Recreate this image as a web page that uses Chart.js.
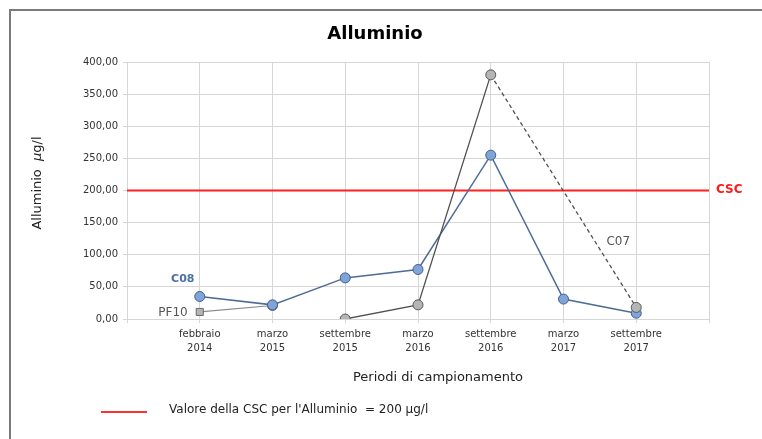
<!DOCTYPE html>
<html>
<head>
<meta charset="utf-8">
<script src="https://cdn.jsdelivr.net/npm/chart.js@4.4.1/dist/chart.umd.min.js"></script>
<style>
  html, body { margin: 0; padding: 0; background: #fff; }
  #wrap { width: 762px; height: 439px; }
</style>
</head>
<body>
<div id="wrap"><canvas id="chart" width="762" height="439"></canvas></div>
<script>
// periods (first and last slots are empty padding so the grid matches the original)
const periods = ['', 'febbraio\n2014', 'marzo\n2015', 'settembre\n2015', 'marzo\n2016',
                 'settembre\n2016', 'marzo\n2017', 'settembre\n2017', ''];
const c08 = [null, 35, 22, 64, 77, 255, 31, 9, null];
const c07 = [null, null, null, 0, 22, 380, null, 18, null];
const pf10 = [null, 11, 21, null, null, null, null, null, null];
const cscValue = 200;
const csc = periods.map(() => cscValue);
const yTicks = [0, 50, 100, 150, 200, 250, 300, 350, 400];

const FONT = "'DejaVu Sans', Arial, sans-serif";

const fmt = v => v.toFixed(2).replace('.', ',');

const decorations = {
    id: 'decorations',
    beforeDraw(chart) {
        const ctx = chart.ctx;
        ctx.save();
        ctx.fillStyle = '#fff';
        ctx.fillRect(0, 0, chart.width, chart.height);
        ctx.strokeStyle = '#7a7a7a';
        ctx.lineWidth = 2;
        ctx.beginPath();
        ctx.moveTo(10, chart.height);
        ctx.lineTo(10, 10);
        ctx.lineTo(chart.width, 10);
        ctx.stroke();
        ctx.restore();
    },
    afterDraw(chart) {
        const ctx = chart.ctx;
        const x = chart.scales.x, y = chart.scales.y;
        const area = chart.chartArea;
        ctx.save();

        // title
        ctx.fillStyle = '#000';
        ctx.font = 'bold 18px ' + FONT;
        ctx.textAlign = 'center';
        ctx.textBaseline = 'middle';
        ctx.fillText('Alluminio', 375, 34);

        // y axis title
        ctx.save();
        ctx.translate(38, 183);
        ctx.rotate(-Math.PI / 2);
        ctx.fillStyle = '#222';
        const a = 'Alluminio  ';
        ctx.font = '13px ' + FONT;
        const wa = ctx.measureText(a).width;
        ctx.font = 'italic 13px ' + FONT;
        const wb = ctx.measureText('\u00b5').width;
        ctx.font = '13px ' + FONT;
        const wc = ctx.measureText('g/l').width;
        let sx = -(wa + wb + wc) / 2;
        ctx.textAlign = 'left';
        ctx.fillText(a, sx, 0);
        ctx.font = 'italic 13px ' + FONT;
        ctx.fillText('\u00b5', sx + wa, 0);
        ctx.font = '13px ' + FONT;
        ctx.fillText('g/l', sx + wa + wb, 0);
        ctx.restore();

        // x axis title
        ctx.font = '13px ' + FONT;
        ctx.fillStyle = '#222';
        ctx.textAlign = 'center';
        ctx.fillText('Periodi di campionamento', 438, 378);

        // series labels
        ctx.font = 'bold 11px ' + FONT;
        ctx.fillStyle = '#4a6fa5';
        ctx.textAlign = 'center';
        ctx.fillText('C08', x.getPixelForValue(1) - 17, y.getPixelForValue(c08[1]) - 17);

        ctx.font = '12px ' + FONT;
        ctx.fillStyle = '#555';
        ctx.textAlign = 'right';
        ctx.fillText('PF10', x.getPixelForValue(1) - 12, y.getPixelForValue(pf10[1]) + 1);

        ctx.font = '12px ' + FONT;
        ctx.textAlign = 'center';
        ctx.fillText('C07', x.getPixelForValue(7) - 18, y.getPixelForValue(120));

        ctx.font = 'bold 12px ' + FONT;
        ctx.fillStyle = '#ff1a1a';
        ctx.textAlign = 'left';
        ctx.fillText('CSC', area.right + 7, y.getPixelForValue(cscValue) - 1);

        // legend
        ctx.strokeStyle = '#ff3030';
        ctx.lineWidth = 2;
        ctx.beginPath();
        ctx.moveTo(101, 412);
        ctx.lineTo(147, 412);
        ctx.stroke();
        ctx.font = '12px ' + FONT;
        ctx.fillStyle = '#222';
        ctx.textAlign = 'left';
        ctx.fillText("Valore della CSC per l'Alluminio  = " + cscValue + ' \u00b5g/l', 169, 410);

        ctx.restore();
    }
};

new Chart(document.getElementById('chart'), {
    type: 'line',
    data: {
        labels: periods.map(p => p.split('\n')),
        datasets: [
            {
                label: 'C07',
                data: c07,
                borderColor: '#505050',
                borderWidth: 1.3,
                pointBackgroundColor: '#b5b5b5',
                pointBorderColor: '#5a5a5a',
                pointBorderWidth: 1,
                pointRadius: 5,
                spanGaps: true,
                segment: {
                    // dashed where a sampling period is missing
                    borderDash: c => (c.p0.skip || c.p1.skip ? [4, 3] : undefined)
                }
            },
            {
                label: 'C08',
                data: c08,
                borderColor: '#4e6c96',
                borderWidth: 1.5,
                pointBackgroundColor: '#7fa4d8',
                pointBorderColor: '#41608e',
                pointBorderWidth: 1,
                pointRadius: 5
            },
            {
                label: 'PF10',
                data: pf10,
                borderColor: '#8a8a8a',
                borderWidth: 1.2,
                pointStyle: ['circle', 'rect', 'circle'],
                pointBackgroundColor: '#b5b5b5',
                pointBorderColor: '#6a6a6a',
                pointBorderWidth: 1,
                pointRadius: 5
            },
            {
                label: 'CSC',
                data: csc,
                borderColor: '#ff2020',
                borderWidth: 2,
                pointRadius: 0
            }
        ]
    },
    options: {
        responsive: false,
        animation: false,
        layout: { padding: { top: 62, right: 53, bottom: 0, left: 0 } },
        plugins: {
            legend: { display: false },
            title: { display: false },
            tooltip: { enabled: false }
        },
        scales: {
            x: {
                type: 'category',
                offset: false,
                afterFit: s => { s.height = 120; },
                grid: { color: '#d6d6d6', lineWidth: 1, tickLength: 4 },
                border: { color: '#d6d6d6' },
                ticks: {
                    autoSkip: false,
                    maxRotation: 0,
                    padding: 5,
                    color: '#333',
                    font: { family: FONT, size: 10, lineHeight: 1.35 }
                }
            },
            y: {
                min: 0,
                max: 400,
                afterFit: s => { s.width = 127; },
                afterBuildTicks: s => { s.ticks = yTicks.map(v => ({ value: v })); },
                grid: { color: '#d6d6d6', lineWidth: 1, tickLength: 4 },
                border: { color: '#d6d6d6' },
                ticks: {
                    padding: 5,
                    color: '#333',
                    font: { family: FONT, size: 10 },
                    callback: v => fmt(v)
                }
            }
        }
    },
    plugins: [decorations]
});
</script>
</body>
</html>
